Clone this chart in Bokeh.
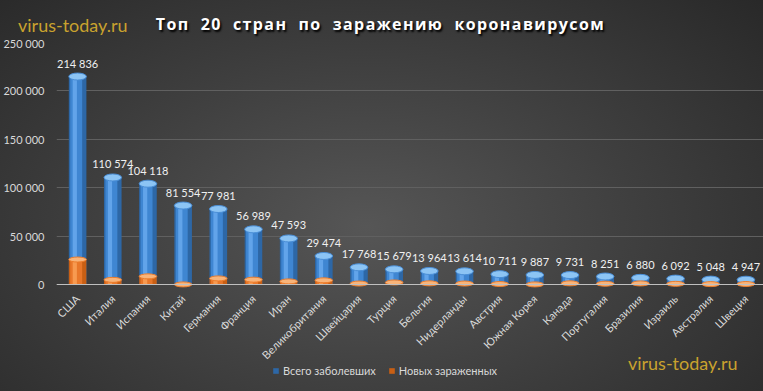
import math
from bokeh.plotting import figure
from bokeh.layouts import column
from bokeh.models import (ColumnDataSource, FixedTicker, Label, Legend, LegendItem, Range1d, Div)
from bokeh.core.properties import value
from bokeh.transform import dodge
from bokeh.embed import file_html
from bokeh.resources import INLINE

countries = ["США", "Италия", "Испания", "Китай", "Германия", "Франция", "Иран",
             "Великобритания", "Швейцария", "Турция", "Бельгия", "Нидерланды",
             "Австрия", "Южная Корея", "Канада", "Португалия", "Бразилия",
             "Израиль", "Австралия", "Швеция"]
total_cases = [214836, 110574, 104118, 81554, 77981, 56989, 47593, 29474, 17768,
               15679, 13964, 13614, 10711, 9887, 9731, 8251, 6880, 6092, 5048, 4947]
new_cases = [25800, 4800, 8400, 100, 6300, 5000, 3200, 4300, 1000, 2100, 1200,
             1000, 500, 100, 1200, 800, 1100, 700, 400, 500]
y_ticks = [0, 50000, 100000, 150000, 200000, 250000]
y_tick_labels = ["0", "50 000", "100 000", "150 000", "200 000", "250 000"]
series_names = ["Всего заболевших", "Новых зараженных"]
series_colors = ["#3f86d2", "#e8772a"]
title_text = "Топ  20  стран  по  заражению  коронавирусом"
watermark = "virus-today.ru"

pos = list(range(len(countries)))
labels = [f"{v:,}".replace(",", " ") for v in total_cases]
src = ColumnDataSource(dict(x=pos, total=total_cases, new=new_cases, lab=labels))

# ---- layout constants (pixels) ----
W, H = 763, 391
HEAD_H = 36                 # header (watermark + title) height
FIG_H = H - HEAD_H          # figure height
FRAME_TOP = 6               # canvas y of the 250 000 line
ZERO_Y = 248                # canvas y of the 0 line
FRAME_LEFT = 50
Y_MAX = y_ticks[-1]
units_per_px = Y_MAX / (ZERO_Y - FRAME_TOP)
y_start = -(FIG_H - ZERO_Y) * units_per_px   # frame continues below 0 for labels & legend

FONT = "Lato"
GOLD = "#c9a22e"

header = Div(
    text=(f'<div style="position:relative;width:{W}px;height:{HEAD_H}px;">'
          f'<span style="position:absolute;left:18px;top:16px;line-height:1;font-family:Lato;'
          f'font-size:18px;color:{GOLD};white-space:pre;">{watermark}</span>'
          f'<span style="position:absolute;left:-1px;width:{W}px;top:16px;line-height:1;text-align:center;'
          f'font-family:\'Open Sans\';font-weight:bold;font-size:16px;letter-spacing:1.4px;'
          f'color:#ffffff;white-space:pre;text-shadow:1.5px 1.5px 2px #000;">{title_text}</span></div>'),
    width=W, height=HEAD_H, margin=0)

p = figure(width=W, height=FIG_H, x_range=Range1d(-0.6, len(countries) - 0.5),
           y_range=Range1d(y_start, Y_MAX),
           output_backend="svg", toolbar_location=None, margin=0,
           min_border_left=FRAME_LEFT, min_border_right=0, min_border_top=FRAME_TOP, min_border_bottom=0)
p.background_fill_alpha = 0
p.border_fill_alpha = 0
p.outline_line_color = None

bw = 0.5
r_total = p.vbar(x="x", top="total", width=bw, source=src, fill_color="#2d67a6", line_color=None)
p.vbar(x=dodge("x", -0.04), top="total", width=0.34, source=src, fill_color=series_colors[0], line_color=None)
p.vbar(x=dodge("x", -0.08), top="total", width=0.12, source=src, fill_color="#62a4ea", line_color=None)
p.ellipse(x="x", y="total", width=bw, height=7, height_units="screen", source=src,
          fill_color="#8cc4f4", line_color="#4a8ed6")

r_new = p.vbar(x="x", top="new", width=bw, source=src, fill_color="#c85f14", line_color=None)
p.vbar(x=dodge("x", -0.04), top="new", width=0.34, source=src, fill_color=series_colors[1], line_color=None)
p.vbar(x=dodge("x", -0.08), top="new", width=0.12, source=src, fill_color="#f79a50", line_color=None)
p.ellipse(x="x", y="new", width=bw, height=5, height_units="screen", source=src,
          fill_color="#f8b47a", line_color="#ec7d2c")

p.text(x="x", y="total", text="lab", source=src, text_align="center", text_baseline="bottom",
       y_offset=-7, text_color="#f0f0f0", text_font_size="11px", text_font=value(FONT))

# x axis drawn at the 0 line inside the frame
p.xaxis.fixed_location = 0
p.xaxis.ticker = FixedTicker(ticks=pos)
p.xaxis.major_label_overrides = {i: c for i, c in zip(pos, countries)}
p.xaxis.major_label_orientation = math.pi / 4
p.xaxis.major_label_text_color = "#d9d9d9"
p.xaxis.major_label_text_font_size = "11px"
p.xaxis.major_label_text_font = FONT
p.xaxis.axis_line_color = "#bfbfbf"
p.xaxis.major_tick_line_color = None
p.xaxis.minor_tick_line_color = None
p.xaxis.major_label_standoff = 6

p.yaxis.ticker = FixedTicker(ticks=y_ticks)
p.yaxis.major_label_overrides = {t: l for t, l in zip(y_ticks, y_tick_labels)}
p.yaxis.major_label_text_color = "#d9d9d9"
p.yaxis.major_label_text_font_size = "11px"
p.yaxis.major_label_text_font = FONT
p.yaxis.axis_line_color = None
p.yaxis.major_tick_line_color = None
p.yaxis.minor_tick_line_color = None
p.yaxis.major_label_standoff = 6

p.xgrid.grid_line_color = None
p.ygrid.grid_line_color = "#606060"
p.ygrid.ticker = FixedTicker(ticks=y_ticks)

legend = Legend(items=[LegendItem(label=series_names[0], renderers=[r_total]),
                       LegendItem(label=series_names[1], renderers=[r_new])],
                orientation="horizontal", location=(216, 14),
                label_text_color="#d9d9d9", label_text_font_size="11px", label_text_font=FONT,
                glyph_width=7, glyph_height=7, background_fill_alpha=0, border_line_alpha=0,
                spacing=12, padding=0, margin=0, label_standoff=4, label_height=12)
p.add_layout(legend, "center")

p.add_layout(Label(x=681, y=29, x_units="screen", y_units="screen", text=watermark,
                   text_align="right", text_baseline="middle", text_color=GOLD,
                   text_font=FONT, text_font_size="18px"))

layout = column(header, p, spacing=0, width=W, height=H,
                styles={"background": "radial-gradient(ellipse 75% 90% at 48% 58%, #565656 0%, #404040 45%, #262626 100%)"})

open("out.html", "w").write(file_html(layout, INLINE))
